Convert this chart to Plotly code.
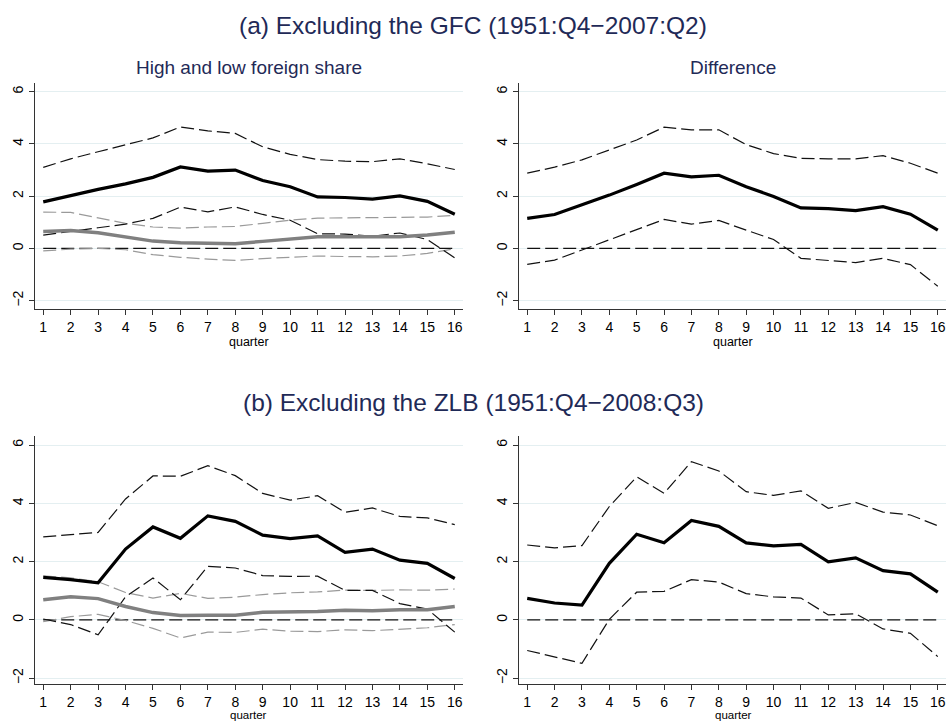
import plotly.graph_objects as go

quarters = list(range(1, 17))

# Panel (a) left: high foreign share (black) and low foreign share (gray)
a_high = [1.78, 2.03, 2.26, 2.47, 2.72, 3.12, 2.96, 3.0, 2.6, 2.36, 1.97, 1.95, 1.89, 2.01, 1.8, 1.31]
a_high_up = [3.1, 3.43, 3.7, 3.97, 4.23, 4.65, 4.5, 4.4, 3.89, 3.6, 3.4, 3.34, 3.32, 3.43, 3.24, 3.02]
a_high_lo = [0.51, 0.64, 0.79, 0.93, 1.15, 1.58, 1.4, 1.59, 1.3, 1.08, 0.56, 0.55, 0.47, 0.59, 0.34, -0.36]
a_low = [0.65, 0.69, 0.6, 0.43, 0.28, 0.22, 0.2, 0.18, 0.27, 0.36, 0.45, 0.45, 0.45, 0.45, 0.51, 0.62]
a_low_up = [1.39, 1.38, 1.17, 0.96, 0.82, 0.78, 0.82, 0.84, 0.96, 1.08, 1.16, 1.17, 1.17, 1.17, 1.2, 1.27]
a_low_lo = [-0.09, -0.03, 0.0, -0.05, -0.24, -0.34, -0.41, -0.46, -0.39, -0.33, -0.29, -0.31, -0.32, -0.29, -0.19, -0.01]

# Panel (a) right: difference
a_diff = [1.15, 1.3, 1.67, 2.04, 2.45, 2.88, 2.74, 2.8, 2.36, 1.99, 1.55, 1.52, 1.45, 1.6, 1.31, 0.7]
a_diff_up = [2.88, 3.11, 3.39, 3.77, 4.15, 4.64, 4.54, 4.54, 3.97, 3.63, 3.45, 3.43, 3.43, 3.55, 3.26, 2.88]
a_diff_lo = [-0.61, -0.45, -0.06, 0.32, 0.7, 1.11, 0.93, 1.07, 0.7, 0.34, -0.38, -0.45, -0.54, -0.38, -0.62, -1.45]

# Panel (b) left
b_high = [1.46, 1.38, 1.27, 2.43, 3.19, 2.8, 3.57, 3.38, 2.91, 2.79, 2.88, 2.32, 2.43, 2.05, 1.94, 1.42]
b_high_up = [2.85, 2.93, 3.0, 4.15, 4.94, 4.93, 5.29, 4.95, 4.34, 4.11, 4.26, 3.69, 3.84, 3.55, 3.5, 3.27]
b_high_lo = [0.03, -0.16, -0.51, 0.79, 1.44, 0.69, 1.84, 1.78, 1.52, 1.49, 1.5, 1.01, 1.01, 0.56, 0.37, -0.42]
b_low = [0.69, 0.79, 0.73, 0.46, 0.25, 0.15, 0.16, 0.16, 0.26, 0.26, 0.29, 0.33, 0.31, 0.35, 0.35, 0.46]
b_low_up = [1.51, 1.44, 1.31, 0.94, 0.75, 0.91, 0.74, 0.78, 0.87, 0.93, 0.96, 1.02, 1.01, 1.03, 1.02, 1.06]
b_low_lo = [-0.06, 0.11, 0.19, -0.02, -0.29, -0.62, -0.42, -0.43, -0.32, -0.39, -0.4, -0.34, -0.37, -0.33, -0.27, -0.16]

# Panel (b) right
b_diff = [0.74, 0.58, 0.51, 1.94, 2.94, 2.65, 3.41, 3.21, 2.64, 2.54, 2.59, 1.99, 2.13, 1.69, 1.58, 0.95]
b_diff_up = [2.57, 2.47, 2.55, 3.89, 4.91, 4.34, 5.43, 5.11, 4.4, 4.27, 4.43, 3.83, 4.03, 3.7, 3.6, 3.23]
b_diff_lo = [-1.05, -1.28, -1.49, 0.02, 0.95, 0.98, 1.38, 1.3, 0.9, 0.79, 0.75, 0.17, 0.21, -0.31, -0.46, -1.26]

zero = [0] * 16

main_titles = ["(a) Excluding the GFC (1951:Q4\u22122007:Q2)",
               "(b) Excluding the ZLB (1951:Q4\u22122008:Q3)"]
sub_titles = ["High and low foreign share", "Difference"]
x_title = "quarter"
y_ticks = [-2, 0, 2, 4, 6]
y_labels = ["\u22122", "0", "2", "4", "6"]

W, H = 946, 722
FONT = "Liberation Sans, Arial, sans-serif"
NAVY = "#1f2a57"
DASH = "13px,5px"

fig = go.Figure()

def px_to_dom_x(a, b):
    return [a / W, b / W]

def px_to_dom_y(top, bottom):
    return [1 - bottom / H, 1 - top / H]

panels = [
    # (axis index, x domain px, y domain px, y range)
    (1, (35, 463), (83.3, 309.3), [-2.33, 6.32]),
    (2, (519, 946), (83.3, 309.3), [-2.33, 6.32]),
    (3, (35, 463), (436, 684), [-2.2, 6.31]),
    (4, (519, 946), (436, 684), [-2.2, 6.31]),
]

def add_line(idx, y, color, width, dash=None):
    fig.add_trace(go.Scatter(
        x=quarters, y=y, mode="lines",
        line=dict(color=color, width=width, dash=dash),
        xaxis="x" if idx == 1 else f"x{idx}",
        yaxis="y" if idx == 1 else f"y{idx}",
        showlegend=False, hoverinfo="skip"))

# zero lines
for idx in [1, 2, 3, 4]:
    add_line(idx, zero, "#111111", 1.2, DASH)

# left panels: gray (low) then black (high)
for idx, (lo, lo_up, lo_lo, hi, hi_up, hi_lo) in [
        (1, (a_low, a_low_up, a_low_lo, a_high, a_high_up, a_high_lo)),
        (3, (b_low, b_low_up, b_low_lo, b_high, b_high_up, b_high_lo))]:
    add_line(idx, lo_up, "#9a9a9a", 1.2, DASH)
    add_line(idx, lo_lo, "#9a9a9a", 1.2, DASH)
    add_line(idx, hi_up, "#111111", 1.2, DASH)
    add_line(idx, hi_lo, "#111111", 1.2, DASH)
    add_line(idx, lo, "#808080", 3.5)
    add_line(idx, hi, "#000000", 3.2)

for idx, (d, du, dl) in [(2, (a_diff, a_diff_up, a_diff_lo)),
                         (4, (b_diff, b_diff_up, b_diff_lo))]:
    add_line(idx, du, "#111111", 1.2, DASH)
    add_line(idx, dl, "#111111", 1.2, DASH)
    add_line(idx, d, "#000000", 3.2)

layout = dict(
    width=W, height=H, margin=dict(l=0, r=0, t=0, b=0),
    paper_bgcolor="white", plot_bgcolor="white",
    font=dict(family=FONT, color="#000000", size=14),
    showlegend=False,
)

for idx, xd, yd, yr in panels:
    xk = "xaxis" if idx == 1 else f"xaxis{idx}"
    yk = "yaxis" if idx == 1 else f"yaxis{idx}"
    xa = "x" if idx == 1 else f"x{idx}"
    ya = "y" if idx == 1 else f"y{idx}"
    layout[xk] = dict(
        domain=px_to_dom_x(*xd), range=[0.7, 16.3], anchor=ya,
        tickmode="array", tickvals=quarters, ticktext=[str(q) for q in quarters],
        ticks="outside", ticklen=5, tickcolor="#333333", tickwidth=1,
        showline=True, linecolor="#333333", linewidth=1.3,
        showgrid=False, zeroline=False,
        tickfont=dict(size=14, family=FONT, color="#000000"),
    )
    layout[yk] = dict(
        domain=px_to_dom_y(*yd), range=yr, anchor=xa,
        tickmode="array", tickvals=y_ticks, ticktext=y_labels, tickangle=-90,
        ticks="outside", ticklen=5, tickcolor="#333333", tickwidth=1,
        showline=True, linecolor="#333333", linewidth=1.3,
        showgrid=True, gridcolor="#e4eff1", gridwidth=1, zeroline=False,
        tickfont=dict(size=14, family=FONT, color="#000000"),
    )

fig.update_layout(**layout)

def paper_text(text, xpx, ypx, size, color):
    return dict(text=text, x=xpx / W, y=1 - ypx / H, xref="paper", yref="paper",
                showarrow=False, xanchor="center", yanchor="middle",
                font=dict(size=size, family=FONT, color=color))

ann = [
    paper_text(main_titles[0], 473, 25, 24.5, NAVY),
    paper_text(main_titles[1], 473, 402, 24.5, NAVY),
    paper_text(sub_titles[0], 249, 67, 19, NAVY),
    paper_text(sub_titles[1], 733, 67, 19, NAVY),
    paper_text(x_title, 249, 342, 12.5, "#000000"),
    paper_text(x_title, 733, 342, 12.5, "#000000"),
    paper_text(x_title, 249, 715, 11.5, "#000000"),
    paper_text(x_title, 733, 715, 11.5, "#000000"),
]
fig.update_layout(annotations=ann)

fig.write_html("out.html")
